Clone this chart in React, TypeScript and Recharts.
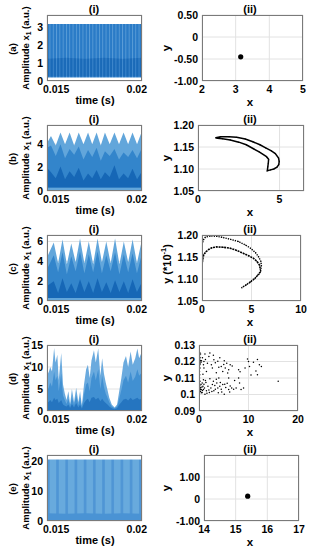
import React from 'react';
import { ComposedChart, Area, XAxis, YAxis, CartesianGrid, ScatterChart, Scatter } from 'recharts';

const FONT = '"Liberation Sans", Arial, Helvetica, sans-serif';
const TICK = { fill: '#000', fontSize: 10.5, fontWeight: 700, fontFamily: FONT };

// ---------- (i) time traces: sample times + envelope of each colour layer ----------
const tA = [0.015, 0.016, 0.017, 0.018, 0.019, 0.02];
const hiA = [3.2, 3.2, 3.2, 3.2, 3.2, 3.2];
const darkA = [1.25, 1.3, 1.25, 1.3, 1.25, 1.3];

const tB = [0.015, 0.01521, 0.01546, 0.01571, 0.01595, 0.01619, 0.01643, 0.01667, 0.01692, 0.01716, 0.01738,
  0.01761, 0.01783, 0.01805, 0.0183, 0.01855, 0.01879, 0.01903, 0.01927, 0.0195, 0.01974, 0.01997, 0.02];
const hiB = [4.1, 4.7, 3.9, 5.0, 4.0, 5.0, 3.9, 5.0, 4.0, 5.0, 4.0, 5.0, 3.9, 5.0, 4.0, 5.0, 4.0, 5.0, 4.0, 5.0, 4.0, 5.0, 4.9];
const midB = [3.7, 3.9, 3.0, 4.0, 2.8, 3.6, 3.1, 3.8, 2.7, 3.5, 2.9, 3.7, 2.6, 3.4, 3.0, 3.6, 2.7, 3.3, 2.9, 3.5, 2.8, 3.6, 3.5];
const darkB = [2.0, 1.6, 1.1, 2.1, 1.0, 1.7, 1.2, 2.0, 0.9, 1.5, 1.1, 1.8, 1.0, 1.6, 1.2, 2.2, 1.0, 1.5, 1.1, 1.9, 1.0, 1.6, 1.5];

const tC = [0.015, 0.015355, 0.015585, 0.015816, 0.016046, 0.016277, 0.016507, 0.016738, 0.016968, 0.017199, 0.017429,
  0.01766, 0.01789, 0.018121, 0.018351, 0.018582, 0.018812, 0.019043, 0.019273, 0.019504, 0.019734, 0.019965, 0.02];
const hiC = [4.4, 5.9, 3.8, 6.2, 3.7, 5.8, 3.9, 6.3, 3.8, 6.0, 3.7, 6.3, 3.9, 6.0, 3.8, 6.3, 3.7, 6.0, 3.9, 6.2, 3.8, 5.9, 5.6];
const midC = [3.2, 4.6, 2.9, 4.9, 2.7, 4.5, 3.0, 5.0, 2.8, 4.7, 2.9, 5.0, 2.8, 4.6, 3.0, 4.9, 2.7, 4.7, 2.9, 4.8, 2.8, 4.5, 4.2];
const darkC = [1.5, 2.0, 0.8, 2.3, 0.9, 1.8, 0.8, 2.2, 0.9, 2.0, 0.8, 2.3, 0.9, 1.9, 0.8, 2.1, 0.9, 2.0, 0.8, 2.2, 0.9, 1.8, 1.7];

const tD = [0.015, 0.015075, 0.015169, 0.015262, 0.015375, 0.015449, 0.015543, 0.015618, 0.015749, 0.015843,
  0.015936, 0.01603, 0.016124, 0.016217, 0.016311, 0.016423, 0.016536, 0.016648, 0.016742, 0.016835,
  0.016948, 0.01706, 0.017154, 0.017247, 0.017341, 0.017472, 0.017566, 0.017697, 0.017809, 0.017903,
  0.017996, 0.01809, 0.018184, 0.018277, 0.018408, 0.018558, 0.018689, 0.018801, 0.018914, 0.019026,
  0.019157, 0.01927, 0.019401, 0.019513, 0.019644, 0.019757, 0.01985, 0.02];
const hiD = [10.5, 8.5, 10, 9, 14.3, 11, 12.8, 7, 13.2, 6,
  4, 2.5, 4.5, 1.5, 5, 2, 5.3, 2, 4.5, 1.2,
  6, 9.5, 10.5, 7.5, 11.5, 13.8, 11, 14.2, 8, 12,
  8.5, 6.5, 4.8, 3, 1.5, 0.8, 1.5, 4.5, 7.5, 11,
  12.5, 10, 13.5, 10.5, 12, 14.2, 12, 13.5];
const midD = [6.5, 5, 6.5, 5.5, 9, 7, 8, 4.5, 8.5, 3.5,
  2.5, 1.6, 2.8, 1.0, 3.2, 1.3, 3.5, 1.3, 3.0, 0.8,
  3.8, 6, 6.5, 4.5, 7.5, 9, 7, 9.5, 5, 8,
  5.5, 4, 3, 2, 1.0, 0.6, 1.0, 2.8, 4.8, 7,
  8, 6.5, 9, 6.8, 7.8, 9.5, 8, 8.8];
const darkD = [2.5, 2, 2.5, 2, 3, 2.5, 2.8, 1.8, 2.5, 1.5,
  1.2, 1.0, 1.5, 0.7, 1.6, 0.8, 1.8, 0.8, 1.5, 0.5,
  1.8, 2.5, 2.8, 2.0, 3.0, 3.2, 2.6, 3.0, 2.2, 2.8,
  2.2, 1.8, 1.5, 1.0, 0.6, 0.4, 0.6, 1.4, 2.0, 2.6,
  2.8, 2.4, 3.0, 2.5, 2.8, 3.0, 2.6, 2.8];

const tE = [0.015, 0.016, 0.017, 0.018, 0.019, 0.02];
const hiE = [20.5, 20.5, 20.5, 20.5, 20.5, 20.5];
const darkE = [2.6, 2.4, 2.6, 2.4, 2.6, 2.4];

const timeTicks = [0.015, 0.02];

// ---------- (ii) phase portraits ----------
const ptA = [{ x: 3.15, y: -0.45 }];
const ptE = [{ x: 15.38, y: 0.13 }];

const crescX = [1.09, 1.38, 1.9, 2.37, 2.9, 3.36, 3.8, 4.15, 4.5, 4.74, 4.94, 4.98, 4.95, 4.84, 4.65, 4.45, 4.25,
  4.28, 4.31, 4.33, 4.2, 3.75, 3.4, 2.96, 2.5, 1.98, 1.5, 1.19, 1.09];
const crescY = [1.171, 1.1735, 1.1735, 1.172, 1.168, 1.162, 1.155, 1.148, 1.141, 1.135, 1.125, 1.117, 1.11, 1.104,
  1.1, 1.098, 1.096, 1.105, 1.113, 1.122, 1.128, 1.139, 1.146, 1.155, 1.161, 1.166, 1.169, 1.17, 1.171];

const outerCX = [0.0, 0.15, 0.34, 0.84, 1.5, 2.0, 2.9, 3.7, 4.4, 4.9, 5.4, 5.7, 5.95, 6.0, 5.9, 5.6, 5.3, 4.9, 4.5,
  4.2, 4.0, 4.4, 4.9, 5.4, 5.8, 5.95];
const outerCY = [1.178, 1.189, 1.195, 1.198, 1.197, 1.195, 1.19, 1.185, 1.177, 1.17, 1.16, 1.151, 1.14, 1.13, 1.117,
  1.108, 1.1, 1.093, 1.087, 1.083, 1.08, 1.086, 1.094, 1.103, 1.112, 1.118];
const innerCX = [0.0, 0.08, 0.17, 0.4, 0.67, 1.0, 1.5, 2.2, 2.86, 3.5, 4.2, 4.7, 5.2, 5.55, 5.8, 5.9];
const innerCY = [1.132, 1.145, 1.155, 1.162, 1.167, 1.171, 1.173, 1.172, 1.17, 1.165, 1.158, 1.153, 1.147, 1.14,
  1.132, 1.121];

const dX = [0.1, 0.15, 0.1, 0.2, 0.1, 0.3, 0.25, 0.35, 0.15, 0.1, 0.2, 0.1, 0.15, 0.1, 0.2, 0.1, 0.25, 0.1, 0.3, 0.15,
  0.2, 0.1, 0.3, 0.15, 0.4, 0.5, 0.45, 0.55, 0.6, 0.4, 0.05, 0.05,
  0.7, 1.0, 1.3, 1.7, 2.0, 2.2, 2.5, 3.0, 3.3, 3.8, 4.2, 4.5, 5.0, 5.3, 5.6, 6.0, 6.3, 6.7, 5.8, 4.8, 3.5, 2.7,
  1.5, 1.0, 0.8, 1.2, 0.9, 2.9, 5.1, 4.0,
  8.0, 8.3, 10.0, 10.2, 11.0, 11.8, 12.2, 12.6, 11.5, 11.8, 10.5, 9.3, 16.0, 9.8,
  3.5, 4.0, 6.0, 8.0, 8.2, 2.2, 7.2,
  0.6, 0.9, 1.2, 1.5, 1.8, 2.1, 2.4, 2.7, 3.0, 3.3, 3.6, 3.9, 4.2, 4.5, 4.8, 5.1, 5.4, 5.7, 6.0, 6.3, 6.6, 7.0,
  7.5, 8.5, 9.0, 2.9, 4.3, 1.0, 0.8, 1.4, 1.1, 0.7, 1.6, 2.0, 2.6, 3.2, 3.8, 4.6, 5.2, 6.2, 0.9, 1.3, 0.65];
const dY = [0.1005, 0.1015, 0.1025, 0.1035, 0.1045, 0.1018, 0.103, 0.1042, 0.1055, 0.1065, 0.108, 0.11, 0.112,
  0.114, 0.116, 0.1175, 0.1185, 0.1195, 0.1205, 0.1215, 0.1225, 0.1235, 0.1245, 0.1255, 0.1195, 0.1205, 0.103,
  0.101, 0.1045, 0.106, 0.1155, 0.1085,
  0.1222, 0.12, 0.1212, 0.119, 0.123, 0.1252, 0.118, 0.121, 0.1192, 0.1202, 0.1222, 0.117, 0.1182, 0.116, 0.119,
  0.115, 0.118, 0.1172, 0.113, 0.114, 0.1132, 0.116, 0.114, 0.116, 0.1122, 0.1245, 0.118, 0.1238, 0.1205, 0.1165,
  0.115, 0.1138, 0.12, 0.117, 0.1195, 0.1212, 0.118, 0.117, 0.1142, 0.112, 0.1118, 0.116, 0.108, 0.1215,
  0.1092, 0.11, 0.11, 0.11, 0.107, 0.1095, 0.1085,
  0.1012, 0.103, 0.1002, 0.1022, 0.105, 0.1012, 0.104, 0.106, 0.1022, 0.1032, 0.107, 0.101, 0.105, 0.1032, 0.106,
  0.1002, 0.1042, 0.1068, 0.103, 0.1052, 0.104, 0.1032, 0.104, 0.103, 0.104, 0.108, 0.1072, 0.1062, 0.105, 0.1072,
  0.104, 0.1025, 0.1008, 0.1028, 0.1018, 0.1055, 0.104, 0.1015, 0.1062, 0.1015, 0.109, 0.1085, 0.107];

const zip = (xs: number[], ys: number[]) => xs.map((x, i) => ({ x, y: ys[i] }));

// ---------- layout ----------
const ROW_H = 110;
const PLOT_T = 15;
const PLOT_B = 81;
const LEFT_L = 47;
const LEFT_R = 142;
const rightBox = [
  { L: 202, R: 303 },
  { L: 198, R: 304 },
  { L: 202, R: 301 },
  { L: 199, R: 298 },
  { L: 204, R: 299 },
];
const letters = ['(a)', '(b)', '(c)', '(d)', '(e)'];

const LIGHT = '#62a6db';
const MID = '#3385cb';
const DARK = '#1667b6';

const TimeTick = (p: any) => {
  const first = p.payload.value < 0.0175;
  return (
    <text x={first ? p.x - 4 : p.x + 5} y={p.y} dy="0.71em" textAnchor={first ? 'start' : 'end'} style={TICK}>
      {String(p.payload.value)}
    </text>
  );
};

type TimeProps = {
  row: number;
  t: number[];
  hi: number[];
  mid?: number[];
  dark: number[];
  base: number;
  base2: number;
  yMax: number;
  yTicks: number[];
  fills: string[];
  defs?: React.ReactNode;
};

const TimePanel = ({ row, t, hi, mid, dark, base, base2, yMax, yTicks, fills, defs }: TimeProps) => {
  const data = t.map((v, i) => ({
    t: v,
    light: [base, hi[i]],
    mid: mid ? [base2, mid[i]] : null,
    dark: [base2, dark[i]],
  }));
  return (
    <div style={{ position: 'absolute', left: 0, top: row * ROW_H }}>
      <ComposedChart width={155} height={100} data={data}
        margin={{ top: PLOT_T, right: 155 - LEFT_R, bottom: 100 - PLOT_B - 14, left: 0 }}>
        {defs}
        <CartesianGrid stroke="#e2e2e2" />
        <XAxis type="number" dataKey="t" domain={[0.015, 0.02]} ticks={timeTicks} interval={0} height={14}
          axisLine={false} tickLine={false} tickSize={0} tickMargin={5} tick={TimeTick} allowDataOverflow />
        <YAxis type="number" domain={[0, yMax]} ticks={yTicks} interval={0} width={LEFT_L}
          axisLine={false} tickLine={false} tickSize={0} tickMargin={4} tick={TICK} allowDataOverflow />
        <Area type="linear" dataKey="light" stroke="none" fill={fills[0]} fillOpacity={1}
          isAnimationActive={false} dot={false} activeDot={false} />
        {mid && (
          <Area type="linear" dataKey="mid" stroke="none" fill={fills[1]} fillOpacity={1}
            isAnimationActive={false} dot={false} activeDot={false} />
        )}
        <Area type="linear" dataKey="dark" stroke="none" fill={fills[2]} fillOpacity={1}
          isAnimationActive={false} dot={false} activeDot={false} />
      </ComposedChart>
    </div>
  );
};

type PhaseProps = {
  row: number;
  xDom: number[];
  xTicks: number[];
  yDom: number[];
  yTicks: number[];
  yFmt: (v: number) => string;
  children: React.ReactNode;
};

const PhasePanel = ({ row, xDom, xTicks, yDom, yTicks, yFmt, children }: PhaseProps) => {
  const box = rightBox[row];
  return (
    <div style={{ position: 'absolute', left: 155, top: row * ROW_H }}>
      <ScatterChart width={154} height={100}
        margin={{ top: PLOT_T, right: 309 - box.R, bottom: 100 - PLOT_B - 14, left: 0 }}>
        <CartesianGrid stroke="#e2e2e2" />
        <XAxis type="number" dataKey="x" domain={xDom} ticks={xTicks} interval={0} height={14}
          axisLine={false} tickLine={false} tickSize={0} tickMargin={5} tick={TICK} allowDataOverflow />
        <YAxis type="number" dataKey="y" domain={yDom} ticks={yTicks} interval={0} width={box.L - 155}
          axisLine={false} tickLine={false} tickSize={0} tickMargin={4} tick={TICK} tickFormatter={yFmt}
          allowDataOverflow />
        {children}
      </ScatterChart>
    </div>
  );
};

const bigDot = (p: any) => <circle cx={p.cx} cy={p.cy} r={2.6} fill="#000" />;
const tinyDot = (r: number) => (p: any) => <circle cx={p.cx} cy={p.cy} r={r} fill="#000" />;
const fmt2 = (v: number) => (v === 0 ? '0' : v.toFixed(2));

const App = () => {
  const lbl = { fontFamily: FONT, fontWeight: 700, fill: '#000' } as const;
  return (
    <div style={{ position: 'absolute', left: 0, top: 0, width: 309, height: 550, background: '#fff', overflow: 'hidden' }}>
      <TimePanel row={0} t={tA} hi={hiA} dark={darkA} base={0.2} base2={0.25} yMax={3.7} yTicks={[0, 1, 2, 3]}
        fills={['url(#stA)', '', 'url(#stAd)']}
        defs={
          <defs>
            <pattern id="stA" width="3.3" height="8" patternUnits="userSpaceOnUse">
              <rect width="3.3" height="8" fill="#2a7bc7" />
              <rect width="0.9" height="8" fill="#5b9dd7" />
            </pattern>
            <pattern id="stAd" width="3.3" height="8" patternUnits="userSpaceOnUse">
              <rect width="3.3" height="8" fill="#1a6ab8" />
              <rect width="0.9" height="8" fill="#4189cd" />
            </pattern>
          </defs>
        } />
      <TimePanel row={1} t={tB} hi={hiB} mid={midB} dark={darkB} base={0.05} base2={0.3} yMax={5.65}
        yTicks={[0, 2, 4]} fills={[LIGHT, MID, DARK]} />
      <TimePanel row={2} t={tC} hi={hiC} mid={midC} dark={darkC} base={0.05} base2={0.3} yMax={6.65}
        yTicks={[0, 2, 4, 6]} fills={[LIGHT, MID, DARK]} />
      <TimePanel row={3} t={tD} hi={hiD} mid={midD} dark={darkD} base={0.05} base2={0.2} yMax={15}
        yTicks={[0, 5, 10, 15]} fills={['#6aaade', '#4190d2', '#2575c0']} />
      <TimePanel row={4} t={tE} hi={hiE} dark={darkE} base={0.3} base2={0.3} yMax={22} yTicks={[0, 10, 20]}
        fills={['url(#stE)', '', '#4a93d4']}
        defs={
          <defs>
            <pattern id="stE" width="9.2" height="8" patternUnits="userSpaceOnUse">
              <rect width="9.2" height="8" fill="#68aadd" />
              <rect x="1" width="2.6" height="8" fill="#4f95d5" />
            </pattern>
          </defs>
        } />

      <PhasePanel row={0} xDom={[2, 5]} xTicks={[2, 3, 4, 5]} yDom={[-1, 0.5]} yTicks={[-1, -0.5, 0, 0.5]} yFmt={fmt2}>
        <Scatter data={ptA} shape={bigDot} isAnimationActive={false} />
      </PhasePanel>
      <PhasePanel row={1} xDom={[0, 6.5]} xTicks={[0, 5]} yDom={[1.05, 1.2]} yTicks={[1.05, 1.1, 1.15, 1.2]}
        yFmt={(v) => v.toFixed(2)}>
        <Scatter data={zip(crescX, crescY)} shape={tinyDot(0.6)} line={{ stroke: '#000', strokeWidth: 1.5 }}
          isAnimationActive={false} />
      </PhasePanel>
      <PhasePanel row={2} xDom={[0, 10]} xTicks={[0, 5, 10]} yDom={[1.05, 1.2]} yTicks={[1.05, 1.1, 1.15, 1.2]}
        yFmt={(v) => v.toFixed(2)}>
        <Scatter data={zip(outerCX, outerCY)} shape={tinyDot(0.5)}
          line={{ stroke: '#000', strokeWidth: 1.4, strokeDasharray: '1.3 1.1' }} isAnimationActive={false} />
        <Scatter data={zip(innerCX, innerCY)} shape={tinyDot(0.5)}
          line={{ stroke: '#000', strokeWidth: 1.6, strokeDasharray: '2 0.8' }} isAnimationActive={false} />
      </PhasePanel>
      <PhasePanel row={3} xDom={[0, 20]} xTicks={[0, 10, 20]} yDom={[0.09, 0.13]}
        yTicks={[0.09, 0.1, 0.11, 0.12, 0.13]} yFmt={(v) => String(v)}>
        <Scatter data={zip(dX, dY)} shape={tinyDot(0.75)} isAnimationActive={false} />
      </PhasePanel>
      <PhasePanel row={4} xDom={[14, 17]} xTicks={[14, 15, 16, 17]} yDom={[-1, 2]} yTicks={[-1, 0, 1]} yFmt={fmt2}>
        <Scatter data={ptE} shape={bigDot} isAnimationActive={false} />
      </PhasePanel>

      <svg width={309} height={550} style={{ position: 'absolute', left: 0, top: 0, pointerEvents: 'none' }}>
        {letters.map((letter, r) => {
          const y0 = r * ROW_H;
          const rb = rightBox[r];
          return (
            <g key={letter}>
              <rect x={LEFT_L + 0.5} y={y0 + PLOT_T + 0.5} width={LEFT_R - LEFT_L - 1} height={PLOT_B - PLOT_T - 1}
                fill="none" stroke="#7a7a7a" strokeWidth={1} />
              <rect x={rb.L + 0.5} y={y0 + PLOT_T + 0.5} width={rb.R - rb.L - 1} height={PLOT_B - PLOT_T - 1}
                fill="none" stroke="#7a7a7a" strokeWidth={1} />
              <text x={94} y={y0 + 12.5} textAnchor="middle" fontSize={11} style={lbl}>(i)</text>
              <text x={250} y={y0 + 12.5} textAnchor="middle" fontSize={11} style={lbl}>(ii)</text>
              <text x={95} y={y0 + 104} textAnchor="middle" fontSize={11} style={lbl}>time (s)</text>
              <text x={250} y={y0 + 105.5} textAnchor="middle" fontSize={11.5} style={lbl}>x</text>
              <text transform={`translate(12, ${y0 + 49}) rotate(-90)`} textAnchor="middle" dominantBaseline="central"
                fontSize={9.5} style={lbl}>{letter}</text>
              <text transform={`translate(25, ${y0 + 48}) rotate(-90)`} textAnchor="middle" dominantBaseline="central"
                fontSize={9.5} style={lbl}>
                Amplitude x<tspan fontSize={6.5} dy={2.5}>1</tspan><tspan dy={-2.5}> (a.u.)</tspan>
              </text>
              {r === 2 ? (
                <text transform={`translate(167, ${y0 + 44}) rotate(-90)`} textAnchor="middle"
                  dominantBaseline="central" fontSize={11} style={lbl}>
                  y (*10<tspan fontSize={7.5} dy={-4}>-1</tspan><tspan dy={4}>)</tspan>
                </text>
              ) : (
                <text transform={`translate(166, ${y0 + 48}) rotate(-90)`} textAnchor="middle"
                  dominantBaseline="central" fontSize={11.5} style={lbl}>y</text>
              )}
            </g>
          );
        })}
      </svg>
    </div>
  );
};

export default App;
